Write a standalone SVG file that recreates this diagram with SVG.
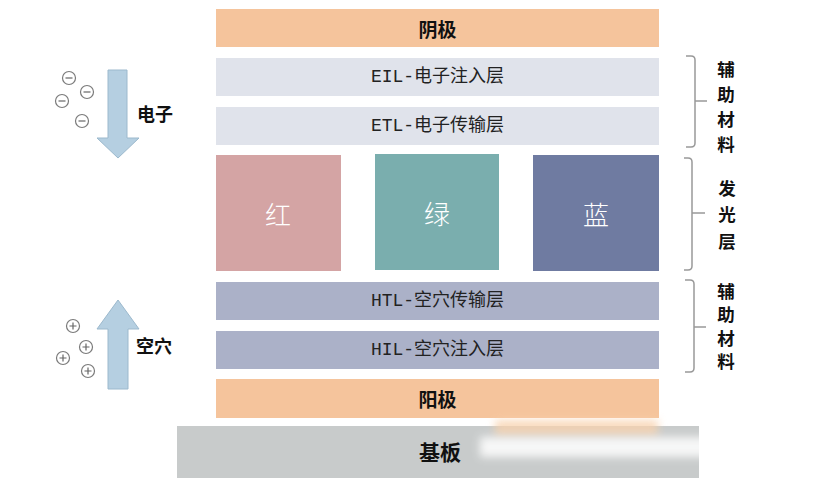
<svg xmlns="http://www.w3.org/2000/svg" width="822" height="485" viewBox="0 0 822 485">
<defs>
<style>
.cat{fill:#F5C49C}
.elec{fill:#E0E3EB}
.hole{fill:#ABB1C8}
.lbl{font-family:"Liberation Mono","Noto Sans CJK SC",monospace;font-size:18px;fill:#222;text-anchor:middle;dominant-baseline:central}
.bold{font-family:"Noto Sans CJK SC",sans-serif;font-weight:bold;font-size:19px;fill:#111;text-anchor:middle;dominant-baseline:central}
.big{font-family:"Noto Sans CJK SC",sans-serif;font-size:26px;fill:#fff;text-anchor:middle;dominant-baseline:central;font-weight:300}
.side{font-family:"Noto Sans CJK SC",sans-serif;font-weight:bold;font-size:17.5px;fill:#111;text-anchor:middle;dominant-baseline:central}
.arrow{fill:#B5CFE1;stroke:#9CB9CD;stroke-width:1}
.ion{fill:none;stroke:#7a7a7a;stroke-width:1.2}
.sign{stroke:#666;stroke-width:1.2}
.brace{fill:none;stroke:#999;stroke-width:1.5}
</style>
<filter id="blur" x="-20%" y="-50%" width="140%" height="200%"><feGaussianBlur stdDeviation="4"/></filter>
</defs>
<rect width="822" height="485" fill="#fff"/>

<g id="cathode"><rect class="cat" x="216" y="9" width="443" height="38"/><text class="bold" x="437.5" y="28">阴极</text></g>
<g id="eil"><rect class="elec" x="216" y="58" width="443" height="38"/><text class="lbl" x="437.5" y="77">EIL-电子注入层</text></g>
<g id="etl"><rect class="elec" x="216" y="107" width="443" height="38"/><text class="lbl" x="437.5" y="126">ETL-电子传输层</text></g>
<g id="red"><rect x="216" y="155" width="125" height="116" fill="#D4A4A4"/><text class="big" x="278" y="213">红</text></g>
<g id="green"><rect x="375" y="154" width="124" height="116" fill="#7AAEAE"/><text class="big" x="437" y="212">绿</text></g>
<g id="blue"><rect x="533" y="155" width="126" height="116" fill="#6F7BA1"/><text class="big" x="596" y="213">蓝</text></g>
<g id="htl"><rect class="hole" x="216" y="282" width="443" height="38"/><text class="lbl" x="437.5" y="301">HTL-空穴传输层</text></g>
<g id="hil"><rect class="hole" x="216" y="331" width="443" height="38"/><text class="lbl" x="437.5" y="350">HIL-空穴注入层</text></g>
<g id="anode"><rect class="cat" x="216" y="379" width="443" height="39"/><text class="bold" x="437.5" y="398">阳极</text></g>
<g id="substrate"><rect x="177" y="426" width="522" height="52" fill="#C8CBCB"/><text class="bold" x="440" y="451" style="font-size:21px">基板</text>
<rect x="495" y="420" width="163" height="16" fill="#F8D2AE" filter="url(#blur)" opacity="0.8"/>
<rect x="480" y="437" width="300" height="20" fill="#fff" filter="url(#blur)" opacity="0.85"/>
</g>

<g id="electrons">
<path class="arrow" d="M108,70 H127 V138 H139 L118,158 L97,138 H108 Z"/>
<circle class="ion" cx="69" cy="78" r="6.5"/><line class="sign" x1="65.5" y1="78" x2="72.5" y2="78"/>
<circle class="ion" cx="87" cy="92" r="6.5"/><line class="sign" x1="83.5" y1="92" x2="90.5" y2="92"/>
<circle class="ion" cx="62" cy="101" r="6.5"/><line class="sign" x1="58.5" y1="101" x2="65.5" y2="101"/>
<circle class="ion" cx="82" cy="121" r="6.5"/><line class="sign" x1="78.5" y1="121" x2="85.5" y2="121"/>
<text class="side" x="155" y="113" style="font-size:18px">电子</text>
</g>
<g id="holes">
<path class="arrow" d="M108,389 H128 V329 H139 L118,300 L97,329 H108 Z"/>
<circle class="ion" cx="73" cy="326" r="6.5"/><path class="sign" d="M69.5,326 H76.5 M73,322.5 V329.5"/>
<circle class="ion" cx="86" cy="347" r="6.5"/><path class="sign" d="M82.5,347 H89.5 M86,343.5 V350.5"/>
<circle class="ion" cx="63" cy="358" r="6.5"/><path class="sign" d="M59.5,358 H66.5 M63,354.5 V361.5"/>
<circle class="ion" cx="88" cy="371" r="6.5"/><path class="sign" d="M84.5,371 H91.5 M88,367.5 V374.5"/>
<text class="side" x="154" y="345" style="font-size:18px">空穴</text>
</g>

<g id="connectors">
<path class="brace" d="M686,56 H691 Q695,56 695,60 V101 H707 M695,101 V143 Q695,147 691,147 H686"/>
<path class="brace" d="M684,158 H688 Q692,158 692,162 V213 H705 M692,213 V266 Q692,270 688,270 H684"/>
<path class="brace" d="M685,280 H690 Q694,280 694,284 V327 H706 M694,327 V368 Q694,372 690,372 H685"/>
</g>

<g id="aux1"><text class="side" x="726" y="68">辅</text><text class="side" x="726" y="93">助</text><text class="side" x="726" y="118">材</text><text class="side" x="726" y="143">料</text></g>
<g id="emit"><text class="side" x="727" y="187">发</text><text class="side" x="727" y="213">光</text><text class="side" x="727" y="240">层</text></g>
<g id="aux2"><text class="side" x="726" y="290">辅</text><text class="side" x="726" y="313.5">助</text><text class="side" x="726" y="337">材</text><text class="side" x="726" y="360.5">料</text></g>
</svg>
